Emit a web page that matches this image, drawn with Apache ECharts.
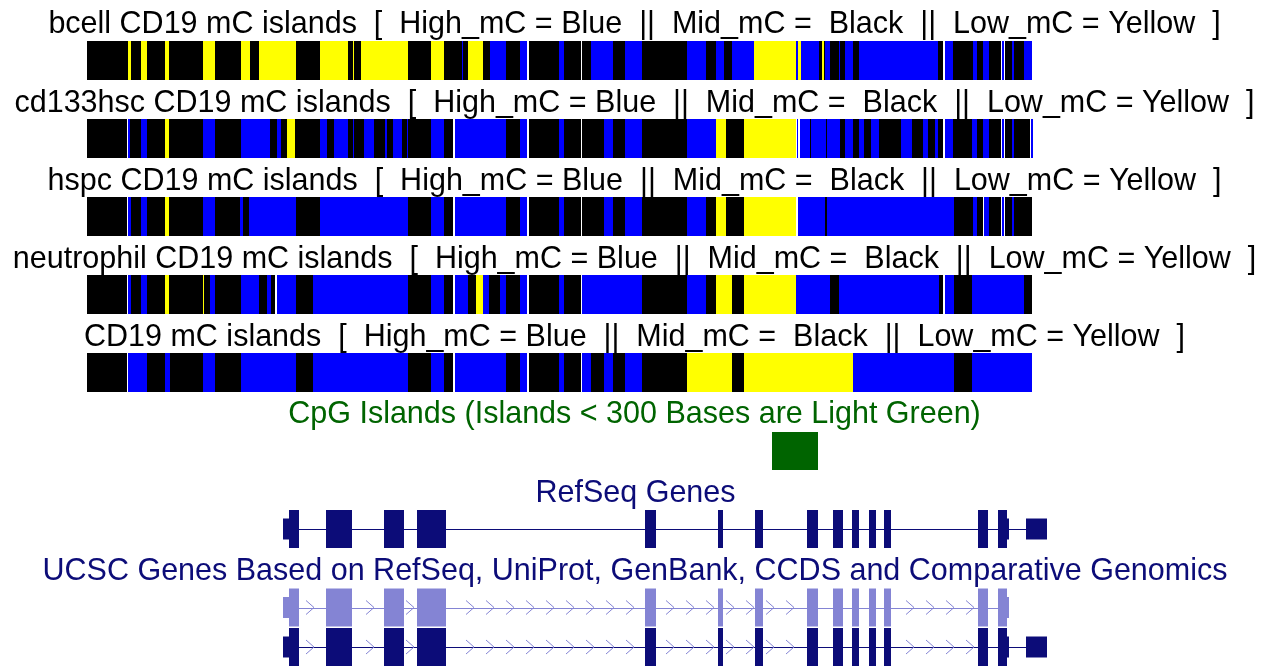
<!DOCTYPE html>
<html><head><meta charset="utf-8">
<script src="https://cdn.jsdelivr.net/npm/echarts@6.0.0/dist/echarts.min.js"></script>
<style>html,body{margin:0;padding:0;background:#fff}#c{width:1269px;height:668px}</style>
</head><body><div id="c"></div>
<script>
// ---------- DATA ----------
const trackNames = ['bcell', 'cd133hsc', 'hspc', 'neutrophil', ''];
const legendText = 'CD19 mC islands  [  High_mC = Blue  ||  Mid_mC =  Black  ||  Low_mC = Yellow  ]';
// methylation runs: [start position, level]  H=High(blue) M=Mid(black) L=Low(yellow) G=gap
const bcellRuns = [[87,'M'],[128,'L'],[131,'M'],[141,'L'],[147,'M'],[165,'L'],[169,'M'],[203,'L'],[215,'M'],[241,'L'],[250,'M'],[259,'L'],[296,'M'],[320,'L'],[348,'M'],[353,'L'],[354,'M'],[361,'L'],[408,'M'],[431,'L'],[444,'M'],[462,'H'],[463,'M'],[468,'L'],[483,'M'],[490,'H'],[506,'M'],[520,'H'],[527,'G'],[529,'M'],[559,'H'],[564,'M'],[581,'G'],[582,'M'],[591,'H'],[613,'M'],[625,'H'],[642,'M'],[687,'H'],[706,'M'],[716,'H'],[724,'M'],[732,'H'],[754,'L'],[796,'H'],[798,'L'],[801,'H'],[819,'M'],[822,'L'],[824,'M'],[825,'H'],[830,'M'],[839,'H'],[840,'M'],[845,'H'],[853,'M'],[859,'H'],[938,'M'],[943,'G'],[945,'H'],[953,'M'],[973,'H'],[977,'M'],[983,'H'],[989,'M'],[1001,'G'],[1002,'H'],[1004,'G'],[1005,'M'],[1012,'H'],[1014,'M'],[1024,'H']];
const bcellEnd = 1032;
const cd133Runs = [[87,'M'],[127,'G'],[128,'H'],[130,'M'],[141,'H'],[147,'M'],[165,'L'],[169,'M'],[203,'H'],[215,'M'],[241,'H'],[270,'M'],[277,'H'],[281,'M'],[287,'L'],[295,'M'],[320,'H'],[327,'M'],[334,'H'],[348,'M'],[353,'H'],[354,'M'],[364,'H'],[374,'M'],[385,'H'],[387,'M'],[393,'H'],[402,'M'],[407,'H'],[408,'M'],[431,'H'],[444,'M'],[453,'G'],[455,'H'],[506,'M'],[520,'H'],[527,'G'],[529,'M'],[559,'H'],[564,'M'],[581,'G'],[582,'M'],[604,'H'],[613,'M'],[625,'H'],[642,'M'],[687,'H'],[716,'L'],[726,'M'],[744,'L'],[796,'G'],[797,'H'],[798,'G'],[800,'H'],[810,'M'],[811,'H'],[826,'M'],[827,'H'],[840,'M'],[845,'H'],[853,'M'],[859,'H'],[864,'M'],[871,'H'],[879,'M'],[901,'H'],[912,'M'],[923,'H'],[928,'M'],[935,'H'],[938,'M'],[943,'G'],[945,'H'],[953,'M'],[972,'H'],[977,'M'],[983,'H'],[989,'M'],[1001,'G'],[1002,'H'],[1004,'G'],[1005,'M'],[1012,'H'],[1014,'M'],[1030,'G'],[1031,'H']];
const cd133End = 1033;
const hspcRuns = [[87,'M'],[127,'G'],[128,'H'],[131,'M'],[141,'H'],[147,'M'],[165,'L'],[169,'M'],[203,'H'],[215,'M'],[240,'H'],[243,'M'],[249,'H'],[296,'M'],[320,'H'],[408,'M'],[431,'H'],[444,'M'],[453,'G'],[455,'H'],[506,'M'],[520,'H'],[527,'G'],[529,'M'],[559,'H'],[564,'M'],[581,'G'],[582,'M'],[604,'H'],[613,'M'],[625,'H'],[642,'M'],[687,'H'],[706,'M'],[716,'L'],[726,'M'],[744,'L'],[796,'G'],[798,'H'],[825,'M'],[827,'H'],[954,'M'],[973,'H'],[977,'M'],[983,'G'],[984,'H'],[989,'M'],[1001,'G'],[1002,'H'],[1004,'G'],[1005,'M'],[1012,'H'],[1014,'M']];
const hspcEnd = 1032;
const neutroRuns = [[87,'M'],[127,'G'],[128,'H'],[131,'M'],[141,'H'],[147,'M'],[165,'L'],[169,'M'],[203,'L'],[204,'M'],[210,'H'],[215,'M'],[241,'H'],[259,'M'],[267,'H'],[271,'M'],[275,'G'],[277,'H'],[296,'M'],[313,'H'],[408,'M'],[431,'H'],[444,'M'],[453,'G'],[455,'H'],[468,'M'],[476,'L'],[483,'H'],[489,'M'],[500,'H'],[506,'M'],[520,'H'],[527,'G'],[529,'M'],[559,'H'],[564,'M'],[581,'G'],[582,'H'],[642,'M'],[687,'H'],[706,'M'],[716,'L'],[732,'M'],[744,'L'],[796,'H'],[830,'M'],[839,'H'],[939,'M'],[943,'G'],[945,'H'],[954,'M'],[972,'H'],[1024,'M']];
const neutroEnd = 1032;
const cd19Runs = [[87,'M'],[127,'G'],[128,'H'],[147,'M'],[165,'H'],[170,'M'],[203,'H'],[215,'M'],[241,'H'],[296,'M'],[313,'H'],[408,'M'],[431,'H'],[444,'M'],[453,'G'],[455,'H'],[506,'M'],[520,'H'],[527,'G'],[529,'M'],[559,'H'],[564,'M'],[581,'G'],[582,'H'],[591,'M'],[604,'H'],[613,'M'],[625,'H'],[642,'M'],[687,'L'],[732,'M'],[744,'L'],[853,'H'],[954,'M'],[972,'H']];
const cd19End = 1032;

const cpgTitle = 'CpG Islands (Islands < 300 Bases are Light Green)';
const cpgIslands = [[772, 818]];

const refSeqTitle = 'RefSeq Genes';
const ucscTitle = 'UCSC Genes Based on RefSeq, UniProt, GenBank, CCDS and Comparative Genomics';
// exons: [start, end, kind]  kind: C = coding, U = UTR
const refSeqExons = [[283,289,'U'],[289,299,'C'],[326,352,'C'],[384,404,'C'],[417,446,'C'],[645,656,'C'],[718,723,'C'],[755,763,'C'],[807,818,'C'],[833,843,'C'],[852,859,'C'],[869,876,'C'],[884,891,'C'],[978,988,'C'],[998,1007,'C'],[1007,1009,'U'],[1026,1047,'U']];
const refSeqSpan = [283, 1026];
const ucscAExons = [[283,289,'U'],[289,299,'C'],[326,352,'C'],[384,404,'C'],[417,446,'C'],[645,656,'C'],[718,723,'C'],[755,763,'C'],[807,818,'C'],[833,843,'C'],[852,859,'C'],[869,876,'C'],[884,891,'C'],[978,988,'C'],[998,1007,'C'],[1007,1009,'U']];
const ucscASpan = [283, 1009];
const ucscBExons = [[283,289,'U'],[289,299,'C'],[326,352,'C'],[384,404,'C'],[417,446,'C'],[645,656,'C'],[718,723,'C'],[755,763,'C'],[807,818,'C'],[833,843,'C'],[852,859,'C'],[869,876,'C'],[884,891,'C'],[978,988,'C'],[998,1007,'C'],[1007,1009,'U'],[1026,1047,'U']];
const ucscBSpan = [283, 1026];

// ---------- LAYOUT / STYLE ----------
const levelIndex = {H:0, M:1, L:2, G:3};
const levelColors = ['#0000ff', '#000000', '#ffff00', '#ffffff'];
const trackTop = 41, trackStep = 78, barH = 39;
const navy = '#0c0c78', light = '#8484d4', green = '#006400';
const FONT = '"Liberation Sans", Arial, Helvetica, sans-serif';
const FS = 30.5;

const trackRuns = [[bcellRuns,bcellEnd],[cd133Runs,cd133End],[hspcRuns,hspcEnd],[neutroRuns,neutroEnd],[cd19Runs,cd19End]];
const segData = [];
trackRuns.forEach(([runs, end], row) => {
  runs.forEach((r, i) => {
    const e = i + 1 < runs.length ? runs[i+1][0] : end;
    segData.push([r[0], e, levelIndex[r[1]], row]);
  });
});

const geneRows = [
  {exons: refSeqExons, span: refSeqSpan, y: 529, color: navy, lineColor: navy, chev: false},
  {exons: ucscAExons, span: ucscASpan, y: 607.5, color: light, lineColor: light, chev: true},
  {exons: ucscBExons, span: ucscBSpan, y: 647, color: navy, lineColor: navy, chev: true}
];
const exonData = [];
geneRows.forEach((g, row) => g.exons.forEach(e => exonData.push([e[0], e[1], e[2] === 'C' ? 1 : 0, row])));
const lineData = geneRows.map((g, row) => [g.span[0], g.span[1], row]);

const dy = 2.5;
const labelY = [22, 101, 179, 257, 335];
const graphics = [];
trackNames.forEach((n, i) => {
  graphics.push({type:'text', x:634.5, y:labelY[i] + dy, style:{text:(n ? n + ' ' : '') + legendText, font:FS+'px '+FONT, fill:'#000', align:'center', verticalAlign:'middle'}});
});
graphics.push({type:'text', x:634.5, y:412 + dy, style:{text:cpgTitle, font:FS+'px '+FONT, fill:green, align:'center', verticalAlign:'middle'}});
graphics.push({type:'text', x:635.5, y:491 + dy, style:{text:refSeqTitle, font:FS+'px '+FONT, fill:navy, align:'center', verticalAlign:'middle'}});
graphics.push({type:'text', x:635, y:569 + dy, style:{text:ucscTitle, font:FS+'px '+FONT, fill:navy, align:'center', verticalAlign:'middle'}});

const chart = echarts.init(document.getElementById('c'), null, {renderer:'canvas'});
chart.setOption({
  animation: false,
  backgroundColor: '#ffffff',
  grid: {left:0, right:0, top:0, bottom:0},
  xAxis: {type:'value', min:0, max:1269, show:false},
  yAxis: {type:'value', min:0, max:668, inverse:true, show:false},
  graphic: graphics,
  series: [
    {
      type:'custom', data: segData, clip:false,
      renderItem(params, api) {
        const top = trackTop + api.value(3) * trackStep;
        const p0 = api.coord([api.value(0), top]);
        const p1 = api.coord([api.value(1), top + barH]);
        return {type:'rect', shape:{x:p0[0], y:p0[1], width:p1[0]-p0[0], height:p1[1]-p0[1]}, style:{fill: levelColors[api.value(2)]}};
      }
    },
    {
      type:'custom', data: cpgIslands, clip:false,
      renderItem(params, api) {
        const p0 = api.coord([api.value(0), 432]);
        const p1 = api.coord([api.value(1), 470]);
        return {type:'rect', shape:{x:p0[0], y:p0[1], width:p1[0]-p0[0], height:p1[1]-p0[1]}, style:{fill: green}};
      }
    },
    {
      type:'custom', data: lineData, clip:false,
      renderItem(params, api) {
        const g = geneRows[api.value(2)];
        const a = api.coord([api.value(0), g.y]);
        const b = api.coord([api.value(1), g.y]);
        const children = [{type:'line', shape:{x1:a[0], y1:Math.round(a[1])+0.5, x2:b[0], y2:Math.round(b[1])+0.5}, style:{stroke:g.lineColor, lineWidth:1}}];
        if (g.chev) {
          for (let p = 310; p < g.span[1]; p += 20) {
            const near = g.exons.some(e => p > e[0] - 5 && p < e[1] + 5);
            if (near) continue;
            const c = api.coord([p, g.y]);
            children.push({type:'polyline', shape:{points:[[c[0]-4, c[1]-7],[c[0]+4, c[1]],[c[0]-4, c[1]+7]]}, style:{stroke: light, lineWidth:1, fill:null}});
          }
        }
        return {type:'group', children};
      }
    },
    {
      type:'custom', data: exonData, clip:false,
      renderItem(params, api) {
        const g = geneRows[api.value(3)];
        const h = api.value(2) === 1 ? 38 : 21;
        const p0 = api.coord([api.value(0), g.y - h/2]);
        const p1 = api.coord([api.value(1), g.y + h/2]);
        return {type:'rect', shape:{x:p0[0], y:p0[1], width:p1[0]-p0[0], height:p1[1]-p0[1]}, style:{fill: g.color}};
      }
    }
  ]
});
</script>
</body></html>
